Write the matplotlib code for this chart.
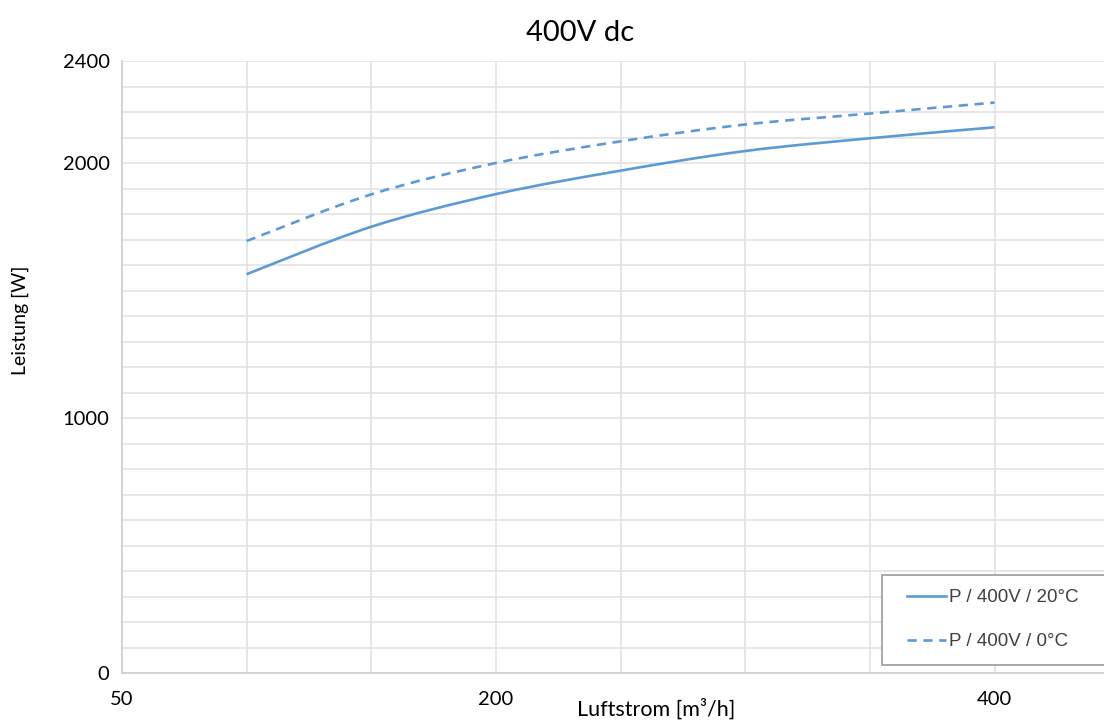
import matplotlib
matplotlib.use("Agg")
import matplotlib.pyplot as plt
from matplotlib.ticker import MultipleLocator, FixedLocator
from matplotlib.path import Path
from matplotlib.patches import PathPatch, Rectangle
from matplotlib.lines import Line2D

# Data
airflow = [100, 150, 200, 250, 300, 350, 400]
p_20c = [1564, 1750, 1878, 1970, 2047, 2097, 2140]
p_0c = [1694, 1877, 2000, 2085, 2151, 2194, 2237]
labels = ["P / 400V / 20°C", "P / 400V / 0°C"]
x_ticks = [50, 200, 400]
y_ticks = [0, 1000, 2000, 2400]

title = "400V dc"
xlabel = "Luftstrom [m³/h]"
ylabel = "Leistung [W]"

W, H = 1104, 722
fig = plt.figure(figsize=(W / 100, H / 100), dpi=100)
ax = fig.add_axes([122 / W, 1 - 673 / H, (1104 - 122) / W, (673 - 61) / H])

color = "#5B9BD5"
lw = 1.9
dash = (0, (3.5, 2.5))


def smooth_path(xs, ys):
    """Excel-style smoothed line: cubic Bezier through the data points."""
    n = len(xs)
    verts = [(xs[0], ys[0])]
    codes = [Path.MOVETO]
    for i in range(n - 1):
        i0 = max(i - 1, 0)
        i3 = min(i + 2, n - 1)
        c1 = (xs[i] + (xs[i + 1] - xs[i0]) / 6, ys[i] + (ys[i + 1] - ys[i0]) / 6)
        c2 = (xs[i + 1] - (xs[i3] - xs[i]) / 6, ys[i + 1] - (ys[i3] - ys[i]) / 6)
        verts += [c1, c2, (xs[i + 1], ys[i + 1])]
        codes += [Path.CURVE4] * 3
    return Path(verts, codes)


ax.add_patch(PathPatch(smooth_path(airflow, p_20c), fill=False,
                       edgecolor=color, lw=lw, capstyle="butt"))
ax.add_patch(PathPatch(smooth_path(airflow, p_0c), fill=False,
                       edgecolor=color, lw=lw, ls=dash, capstyle="butt"))

ax.set_xlim(50, 50 + (1104 - 122) / 2.493)
ax.set_ylim(0, 2400)

ax.xaxis.set_major_locator(FixedLocator(x_ticks))
ax.xaxis.set_minor_locator(MultipleLocator(50))
ax.yaxis.set_major_locator(FixedLocator(y_ticks))
ax.yaxis.set_minor_locator(MultipleLocator(100))

ax.grid(True, which="both", color="#e3e3e3", lw=1.2)
ax.set_axisbelow(True)
ax.tick_params(which="both", length=0)
ax.tick_params(axis="x", pad=13)
ax.tick_params(axis="y", pad=9)
for lab in ax.get_xticklabels() + ax.get_yticklabels():
    lab.set_fontfamily("Lato")
    lab.set_fontsize(14.5)

for s in ["top", "right"]:
    ax.spines[s].set_visible(False)
for s in ["left", "bottom"]:
    ax.spines[s].set_color("#d0d0d0")
    ax.spines[s].set_linewidth(1.2)

fig.text(580 / W, 1 - 33 / H, title, ha="center", va="center",
         fontfamily="Lato", fontsize=21)
fig.text(656 / W, 1 - 709 / H, xlabel, ha="center", va="center",
         fontfamily="Lato", fontsize=15.5)
fig.text(20 / W, 1 - 320 / H, ylabel, ha="center", va="center",
         rotation=90, fontfamily="Lato", fontsize=14)

# legend frame (extends past the right edge as in the reference)
fig.patches.append(Rectangle((882 / W, 1 - 665 / H), (1115 - 882) / W, 90 / H,
                             transform=fig.transFigure, fill=True,
                             facecolor="white", edgecolor="#9a9a9a", lw=1.2,
                             zorder=5))

handles = [Line2D([], [], color=color, lw=lw),
           Line2D([], [], color=color, lw=lw, ls=dash)]
leg = fig.legend(handles, labels, loc="upper left",
                 bbox_to_anchor=(907 / W, 1 - 589 / H),
                 bbox_transform=fig.transFigure,
                 prop={"family": "Liberation Sans", "size": 13.5},
                 frameon=False, handlelength=2.1, handletextpad=0.15,
                 labelspacing=1.45, borderpad=0, borderaxespad=0)
leg.set_zorder(6)
for t in leg.get_texts():
    t.set_color("#404040")

fig.savefig("out.png", dpi=100)
